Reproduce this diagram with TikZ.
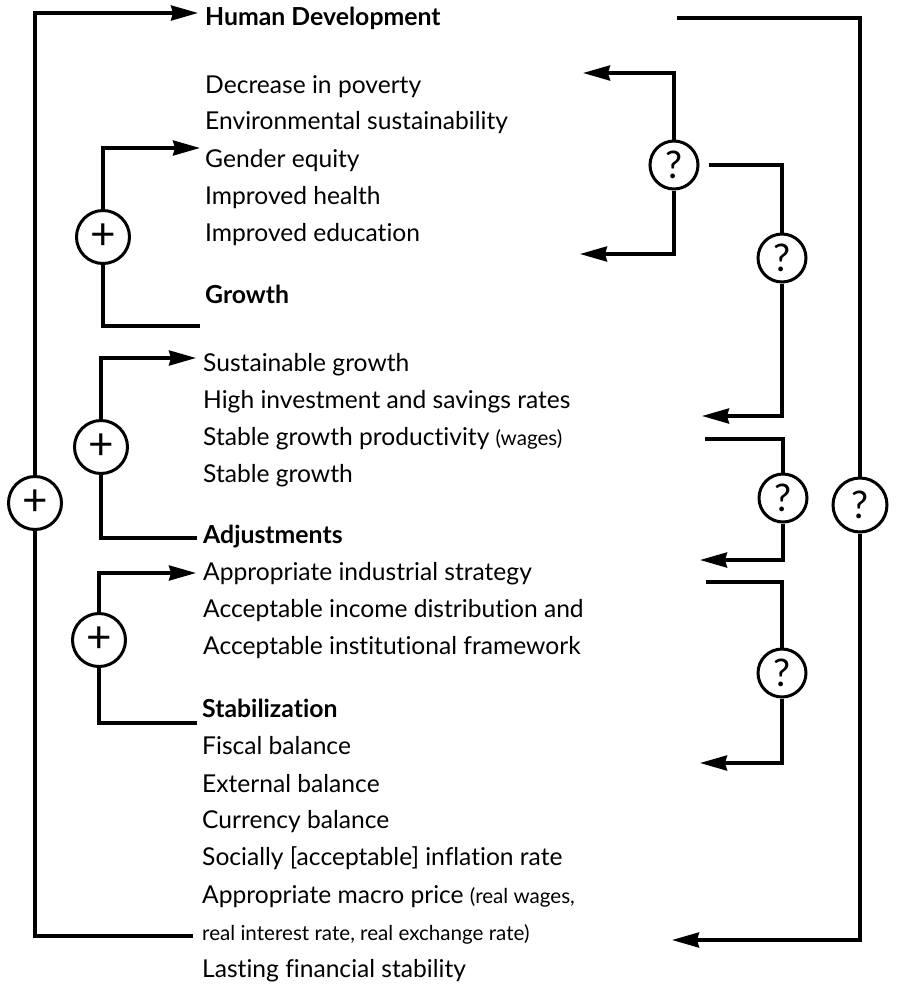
\documentclass[tikz,border=0pt]{standalone}
\usepackage{fontspec}
\setmainfont{Lato}[Ligatures=NoCommon]
\usetikzlibrary{arrows.meta}
\begin{document}
\begin{tikzpicture}[x=1pt,y=-1pt,
  lbl/.style={anchor=base west,inner sep=0pt,font=\fontsize{24.6}{28}\selectfont},
  hd/.style={anchor=base west,inner sep=0pt,font=\fontsize{24.8}{28}\selectfont\bfseries},
  ln/.style={line width=3.3pt,line join=miter},
  arr/.style={ln,-{Stealth[length=27pt,width=15pt,inset=2pt]}},
  plus/.style={circle,draw,line width=3pt,minimum size=53pt,inner sep=0pt,fill=white,font=\fontsize{44}{44}\selectfont},
  qm/.style={circle,draw,line width=3pt,minimum size=48pt,inner sep=0pt,fill=white,font=\fontsize{38}{38}\selectfont},
  qbig/.style={qm,minimum size=54pt}]
\useasboundingbox (0,0) rectangle (898,986);
\fill[white] (0,0) rectangle (898,986);
\newcommand{\smalltxt}{\fontsize{20.6}{22}\selectfont}
% texts
\node[hd]  (HD)  at (205,25)  {Human Development};
\node[lbl] (T1)  at (205,93)  {Decrease in poverty};
\node[lbl] (T2)  at (205,129) {Environmental sustainability};
\node[lbl] (T3)  at (205,167) {Gender equity};
\node[lbl] (T4)  at (205,204) {Improved health};
\node[lbl] (T5)  at (205,241) {Improved education};
\node[hd]  (GR)  at (205,303) {Growth};
\node[lbl] (T6)  at (203,371) {Sustainable growth};
\node[lbl] (T7)  at (203,408) {High investment and savings rates};
\node[lbl] (T8)  at (203,445) {Stable growth productivity {\smalltxt (wages)}};
\node[lbl] (T9)  at (203,482) {Stable growth};
\node[hd]  (AD)  at (203,543) {Adjustments};
\node[lbl] (T10) at (203,580) {Appropriate industrial strategy};
\node[lbl] (T11) at (203,617) {Acceptable income distribution and};
\node[lbl] (T12) at (203,654) {Acceptable institutional framework};
\node[hd]  (ST)  at (202,717) {Stabilization};
\node[lbl] (T13) at (202,754) {Fiscal balance};
\node[lbl] (T14) at (202,792) {External balance};
\node[lbl] (T15) at (202,828) {Currency balance};
\node[lbl] (T16) at (202,865) {Socially [acceptable] inflation rate};
\node[lbl] (T17) at (202,903) {Appropriate macro price {\smalltxt (real wages,}};
\node[lbl,font=\smalltxt] (T18) at (202,940) {real interest rate, real exchange rate)};
\node[lbl] (T19) at (202,977) {Lasting financial stability};
% circles
\node[plus] (pO) at (35,503) {+};
\node[plus] (p1) at (103,237) {+};
\node[plus] (p2) at (101,447) {+};
\node[plus] (p3) at (99,640) {+};
\node[qm] (q1) at (674,165) {?};
\node[qm] (q2) at (782,258) {?};
\node[qm] (q3) at (783,498) {?};
\node[qm] (q4) at (782,673) {?};
\node[qbig] (q5) at (860,505) {?};
% free ends
\coordinate (aO) at (198,13);  \coordinate (eO) at (193,936);
\coordinate (a1) at (200,148); \coordinate (e1) at (200,326);
\coordinate (a2) at (196,358); \coordinate (e2) at (197,538);
\coordinate (a3) at (196,573); \coordinate (e3) at (197,723);
\coordinate (b1) at (583,73);  \coordinate (b2) at (580,254);
\coordinate (b3) at (702,416);
\coordinate (c3) at (705,439); \coordinate (b4) at (700,560);
\coordinate (c4) at (706,582); \coordinate (b5) at (700,763);
\coordinate (c5) at (677,18);  \coordinate (b6) at (672,940);
% left connectors
\draw[arr] (pO) |- (aO);
\draw[ln]  (pO) |- (eO);
\draw[arr] (p1) |- (a1);
\draw[ln]  (p1) |- (e1);
\draw[arr] (p2) |- (a2);
\draw[ln]  (p2) |- (e2);
\draw[arr] (p3) |- (a3);
\draw[ln]  (p3) |- (e3);
% right connectors
\draw[arr] (q1) |- (b1);
\draw[arr] (q1) |- (b2);
\draw[ln,shorten <=9pt] (q1) -| (q2);
\draw[arr] (q2) |- (b3);
\draw[ln]  (c3) -| (q3);
\draw[arr] (q3) |- (b4);
\draw[ln]  (c4) -| (q4);
\draw[arr] (q4) |- (b5);
\draw[ln]  (c5) -| (q5);
\draw[arr] (q5) |- (b6);
\end{tikzpicture}
\end{document}
